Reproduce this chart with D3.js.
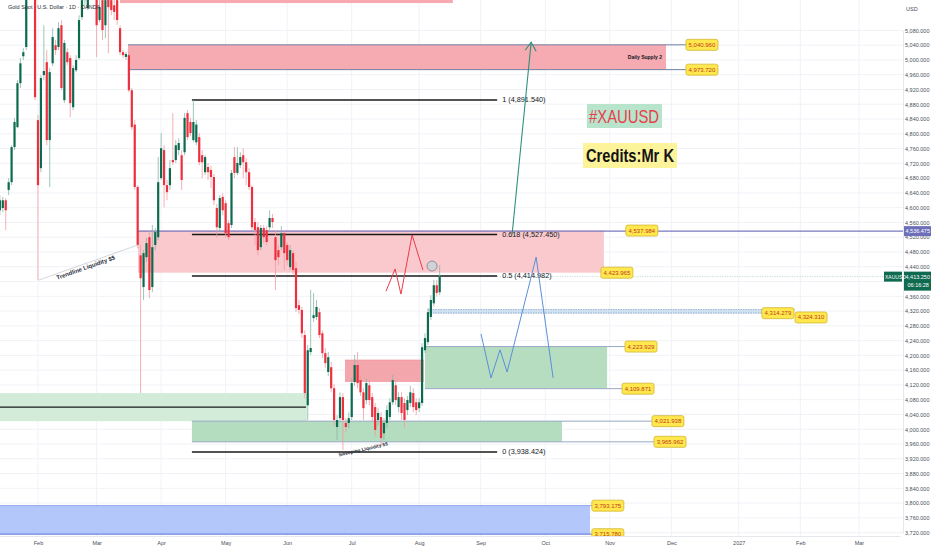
<!DOCTYPE html>
<html>
<head>
<meta charset="utf-8">
<script src="https://cdn.jsdelivr.net/npm/d3@7"></script>
<style>
  body { margin: 0; background: #fff; }
  text { font-family: "Liberation Sans", Arial, sans-serif; }
</style>
</head>
<body>
<div id="chart-area"></div>
<script>
/*
*    XAUUSD daily - Mr K levels
*/

// DATA
// =====

var firstBarDate = new Date(2026, 0, 14);
var lastPrice = 4413.25;
var markedPrice = 4536.475;

// daily candles [open, high, low, close]
var ohlc = [
    [4593, 4634, 4580, 4620], [4599, 4629, 4588, 4620], [4620, 4626, 4539, 4593], [4648, 4680, 4634, 4669],
    [4669, 4769, 4661, 4764], [4764, 4843, 4756, 4832], [4818, 4945, 4815, 4937], [4937, 5005, 4924, 4991],
    [5010, 5032, 5000, 5021], [5035, 5203, 5027, 5176], [5176, 5270, 5162, 5243], [5243, 5284, 5176, 5189],
    [5189, 5216, 4891, 4899], [4837, 4851, 4404, 4661], [4707, 4959, 4696, 4951], [4959, 5094, 4945, 4970],
    [4994, 5027, 4769, 4783], [4783, 4978, 4656, 4967], [4991, 5086, 4983, 5062], [5040, 5054, 5013, 5027],
    [5035, 5102, 5027, 5086], [5094, 5108, 4918, 4924], [4891, 5054, 4883, 5046], [5021, 5032, 4986, 4994],
    [5005, 5013, 4845, 4883], [4872, 4986, 4864, 4978], [4972, 5013, 4967, 5000], [5005, 5121, 5000, 5108],
    [5116, 5189, 5108, 5162], [5162, 5243, 5148, 5216], [5140, 5216, 5135, 5189], [5189, 5230, 5162, 5176],
    [5176, 5230, 5170, 5203], [5176, 5203, 5008, 5094], [5108, 5162, 5102, 5143], [5162, 5189, 5054, 5081],
    [5094, 5189, 5059, 5162], [5176, 5203, 5018, 5143], [5162, 5184, 5121, 5135], [5148, 5170, 5108, 5130],
    [5162, 5176, 5094, 5108], [5086, 5094, 5013, 5021], [5021, 5027, 5005, 5013], [5008, 5021, 5000, 5016],
    [5013, 5021, 4913, 4918], [4918, 4924, 4810, 4818], [4825, 4837, 4648, 4656], [4656, 4661, 4490, 4499],
    [4471, 4499, 4098, 4409], [4385, 4485, 4350, 4477], [4466, 4518, 4453, 4504], [4520, 4539, 4355, 4377],
    [4385, 4553, 4371, 4493], [4499, 4545, 4485, 4534], [4520, 4737, 4512, 4669], [4680, 4802, 4675, 4761],
    [4756, 4769, 4601, 4661], [4661, 4675, 4620, 4642], [4661, 4729, 4648, 4707], [4729, 4856, 4715, 4723],
    [4729, 4783, 4721, 4769], [4756, 4788, 4742, 4775], [4742, 4756, 4648, 4675], [4750, 4856, 4742, 4843],
    [4856, 4864, 4783, 4791], [4832, 4843, 4794, 4802], [4783, 4891.54, 4777, 4832], [4777, 4837, 4769, 4825],
    [4791, 4802, 4715, 4723], [4742, 4756, 4680, 4723], [4696, 4742, 4688, 4737], [4710, 4721, 4675, 4696],
    [4702, 4713, 4653, 4683], [4683, 4691, 4607, 4620], [4599, 4610, 4518, 4547], [4545, 4634, 4534, 4626],
    [4629, 4639, 4580, 4593], [4612, 4620, 4518, 4531], [4558, 4566, 4512, 4520], [4553, 4702, 4545, 4694],
    [4737, 4764, 4680, 4694], [4694, 4764, 4688, 4721], [4715, 4750, 4707, 4737], [4742, 4761, 4680, 4723],
    [4723, 4734, 4661, 4696], [4696, 4707, 4648, 4656], [4656, 4661, 4539, 4547], [4561, 4572, 4499, 4539],
    [4547, 4561, 4471, 4485], [4493, 4553, 4485, 4545], [4545, 4553, 4504, 4520], [4539, 4550, 4499, 4507],
    [4547, 4593, 4534, 4572], [4572, 4583, 4545, 4561], [4520, 4539, 4377, 4458], [4485, 4499, 4444, 4466],
    [4493, 4550, 4485, 4531], [4531, 4539, 4431, 4477], [4499, 4507, 4444, 4458], [4439, 4499, 4431, 4485],
    [4477, 4485, 4417, 4431], [4436, 4453, 4317, 4328], [4336, 4350, 4312, 4323], [4323, 4331, 4247, 4260],
    [4255, 4268, 4084, 4098], [4065, 4228, 4025, 4214], [4209, 4377, 4201, 4220], [4301, 4369, 4290, 4309],
    [4304, 4350, 4296, 4331], [4317, 4328, 4247, 4255], [4260, 4268, 4193, 4206], [4206, 4220, 4166, 4179],
    [4155, 4209, 4144, 4195], [4168, 4182, 4100, 4111], [4111, 4122, 4011, 4025], [4006, 4038, 3971, 4025],
    [4030, 4100, 4019, 4087], [4087, 4098, 3944, 4025], [4017, 4030, 3992, 4006], [4017, 4046, 4003, 4030],
    [4033, 4138, 4025, 4125], [4128, 4201, 4117, 4174], [4174, 4209, 4111, 4125], [4133, 4144, 4090, 4100],
    [4100, 4111, 4025, 4057], [4079, 4138, 4068, 4125], [4119, 4133, 4065, 4079], [4087, 4098, 4019, 4033],
    [4060, 4071, 3981, 3998], [4025, 4057, 4011, 4044], [4033, 4046, 3954, 3976], [3989, 4030, 3971, 4017],
    [4017, 4065, 4003, 4052], [4033, 4084, 4025, 4073], [4073, 4147, 4065, 4133], [4119, 4133, 4065, 4079],
    [4060, 4100, 4046, 4087], [4087, 4100, 4025, 4044], [4071, 4084, 4003, 4025], [4052, 4090, 4038, 4079],
    [4071, 4117, 4060, 4100], [4098, 4111, 4046, 4060], [4073, 4084, 4038, 4052], [4057, 4084, 4046, 4073],
    [4071, 4233, 4063, 4222], [4214, 4260, 4206, 4247], [4236, 4328, 4228, 4317], [4304, 4363, 4296, 4350],
    [4341, 4404, 4333, 4390], [4390, 4404, 4360, 4369], [4371, 4444, 4363, 4413.25]
];

// zones: [from bar, to bar, top price, bottom price]
var topSupply = [43, 156.5, 5230, 5154];
var dailySupply = [45.7, 229.2, 5040.960, 4973.720];
var supplyZone = [49.1, 208, 4537.984, 4423.965];
var thinZone = [148, 261.9, 4324.310, 4314.279];
var demandZone = [147, 209.1, 4223.929, 4109.871];
var smallSupply = [119.7, 146.6, 4187.5, 4128];
var leftDemand = [-5, 106.7, 4098, 4021.938];
var lowDemand = [67.5, 193.7, 4021.938, 3965.962];
var blueZone = [-5, 203.3, 3793.175, 3715.780];

// price tags: [bar, price]
var priceTags = [
    [236, 5040.960], [236, 4973.720], [215.5, 4537.984], [207, 4423.965],
    [261.9, 4314.279], [273.2, 4324.310], [215.2, 4223.929], [214.2, 4109.871],
    [224.4, 4021.938], [225.1, 3965.962], [203.9, 3793.175], [203.9, 3715.780]
];

// fib retracement
var fibLevels = [1, 0.618, 0.5, 0];
var fibPrices = [4891.540, 4527.450, 4414.982, 3938.424];
var fibBars = [67.5, 171.6];
var leftLevel = [-5, 106.4, 4060];

// drawn paths [bar, price]
var arrowPath = [[176.7, 4527.45], [183.2, 5048]];
var redPath = [[133.7, 4374], [136.8, 4434], [138.8, 4366], [142.6, 4526], [146.3, 4431]];
var bluePath = [[166.1, 4258], [169.5, 4139], [172.6, 4215], [175, 4155], [184.9, 4466], [190.7, 4139]];
var trendline = [[15.3, 4404], [49.1, 4499]];
var circlePoint = [149.4, 4442];

// 4,400 sits under the live price tag, so it is not labelled
var priceTicks = d3.range(3720, 5081, 40).filter(d => d !== 4400);


// CANVAS
// =======

var W = 932, H = 550, plotW = 903, plotH = 536;

var svg = d3.select('#chart-area')
    .append('svg')
        .attr('width', W)
        .attr('height', H);

svg.append('defs').append('clipPath')
    .attr('id', 'plot-clip')
    .append('rect')
        .attr('width', plotW)
        .attr('height', plotH);

// trading days (weekdays) for the bar axis
var bars = [];
var day = new Date(2026, 0, 12);
while (day < new Date(2027, 3, 1)) {
    if (day.getDay() % 6 !== 0) bars.push(new Date(day));
    day.setDate(day.getDate() + 1);
}
var firstBar = bars.findIndex(d => d.getTime() === firstBarDate.getTime());

var monthTicks = [];
bars.forEach((d, i) => {
    if (i > 0 && d.getMonth() !== bars[i - 1].getMonth()) monthTicks.push(i);
});

var x = d3.scaleLinear().domain([0, 309]).range([-6, 900]);
var y = d3.scaleLinear().domain([3720, 5080]).range([532.65, 30.4]);


// GRID
// =====

var grid = svg.append('g').attr('class', 'grid');
grid.selectAll('line.h')
    .data(d3.range(3720, 5081, 40))
    .enter().append('line')
        .attr('x1', 0).attr('x2', plotW)
        .attr('y1', d => y(d)).attr('y2', d => y(d))
        .attr('stroke', '#f0f2f7');
grid.selectAll('line.v')
    .data(monthTicks)
    .enter().append('line')
        .attr('x1', d => x(d)).attr('x2', d => x(d))
        .attr('y1', 0).attr('y2', plotH)
        .attr('stroke', '#f0f2f7');

var g = svg.append('g').attr('clip-path', 'url(#plot-clip)');


// ZONES
// ======

function zone(z, fill) {
    return g.append('rect')
        .attr('x', x(z[0]))
        .attr('y', y(z[2]))
        .attr('width', x(z[1]) - x(z[0]))
        .attr('height', y(z[3]) - y(z[2]))
        .attr('fill', fill);
}

function hline(b0, b1, price, color, w, dash) {
    return g.append('line')
        .attr('x1', x(b0)).attr('x2', x(b1))
        .attr('y1', y(price)).attr('y2', y(price))
        .attr('stroke', color)
        .attr('stroke-width', w || 1)
        .attr('stroke-dasharray', dash || null);
}

zone(topSupply, '#f7a9b0');
zone(dailySupply, '#f6aab1');
zone(supplyZone, '#f9c9cd');
zone(leftDemand, '#d3ecda');
zone(lowDemand, '#b4dcbe');
zone(demandZone, '#b7ddc1');
zone(smallSupply, '#f4a6ad');
zone(blueZone, '#b3c7fb');

// zone edges running out to their tags
hline(dailySupply[0], 236, dailySupply[2], '#6f7fa3');
hline(dailySupply[0], 236, dailySupply[3], '#6f7fa3');
hline(supplyZone[1], 207, supplyZone[3], '#9aa6c0');
hline(demandZone[0], 215.2, demandZone[2], '#98a8c4');
hline(demandZone[0], 214.2, demandZone[3], '#98a8c4');
hline(lowDemand[0], 224.4, lowDemand[2], '#98a8c4');
hline(lowDemand[0], 225.1, lowDemand[3], '#98a8c4');
hline(blueZone[0], 203.9, blueZone[2], '#8fa6e8');
hline(blueZone[0], 203.9, blueZone[3], '#6e86df', 1.3);
hline(smallSupply[0], smallSupply[1], smallSupply[2], '#f08e97', 0.6);

// thin hatched zone
zone(thinZone, '#cfe0f0');
hline(thinZone[0], thinZone[1], thinZone[2], '#9cb8d8', 1.2, '1.5,1');
hline(thinZone[0], thinZone[1], thinZone[3], '#9cb8d8', 1.2, '1.5,1');
hline(thinZone[1], 273.2, thinZone[2], '#9cb8d8', 0.8);

// marked horizontal + last price line
hline(supplyZone[0], 312, markedPrice, '#7877c0', 1.1);
hline(ohlc.length + firstBar - 1, 312, lastPrice, '#a8cabc', 0.8, '1,1.5');


// FIB
// ====

fibPrices.forEach(p => hline(fibBars[0], fibBars[1], p, '#1a1a1a', 1.4));
hline(leftLevel[0], leftLevel[1], leftLevel[2], '#1a1a1a', 1.4);

g.selectAll('text.fib')
    .data(fibLevels)
    .enter().append('text')
        .attr('x', x(fibBars[1]) + 5)
        .attr('y', (d, i) => y(fibPrices[i]) + 2.5)
        .attr('font-size', '7.3px')
        .attr('fill', '#131722')
        .text((d, i) => d + ' (' + d3.format(',.3f')(fibPrices[i]) + ')');


// CANDLES
// ========

var candles = g.selectAll('g.candle')
    .data(ohlc)
    .enter().append('g');

candles.append('line')
    .attr('x1', (d, i) => x(firstBar + i))
    .attr('x2', (d, i) => x(firstBar + i))
    .attr('y1', d => y(d[1]))
    .attr('y2', d => y(d[2]))
    .attr('stroke', d => d[3] >= d[0] ? '#86b8a8' : '#f39aa2')
    .attr('stroke-width', 0.8);

candles.append('rect')
    .attr('x', (d, i) => x(firstBar + i) - 1.1)
    .attr('width', 2.2)
    .attr('y', d => y(Math.max(d[0], d[3])))
    .attr('height', d => Math.max(1, Math.abs(y(d[0]) - y(d[3]))))
    .attr('fill', d => d[3] >= d[0] ? '#0c6b4f' : '#ee2f3e');


// DRAWINGS
// =========

var line = d3.line().x(d => x(d[0])).y(d => y(d[1]));

g.append('path')
    .attr('d', line(trendline))
    .attr('fill', 'none')
    .attr('stroke', '#c8ccd6')
    .attr('stroke-width', 0.8);

var tl0 = [x(trendline[0][0]), y(trendline[0][1])],
    tl1 = [x(trendline[1][0]), y(trendline[1][1])],
    tlAngle = Math.atan2(tl1[1] - tl0[1], tl1[0] - tl0[0]) * 180 / Math.PI;
g.append('text')
    .attr('transform', 'translate(' + ((tl0[0] + tl1[0]) / 2 - 2) + ',' + ((tl0[1] + tl1[1]) / 2 + 7) + ') rotate(' + tlAngle + ')')
    .attr('text-anchor', 'middle')
    .attr('font-size', '6px')
    .attr('font-weight', 'bold')
    .attr('fill', '#2a2e39')
    .text('Trendline Liquidity $$');

g.append('text')
    .attr('transform', 'translate(' + x(126) + ',' + (y(3944) + 1) + ') rotate(-13)')
    .attr('text-anchor', 'middle')
    .attr('font-size', '4.8px')
    .attr('font-weight', 'bold')
    .attr('fill', '#2a2e39')
    .text('Sweeping Liquidity $$');

g.append('path')
    .attr('d', line(redPath))
    .attr('fill', 'none')
    .attr('stroke', '#ec3b45')
    .attr('stroke-width', 1);

g.append('path')
    .attr('d', line(bluePath))
    .attr('fill', 'none')
    .attr('stroke', '#5a8fd8')
    .attr('stroke-width', 1);

g.append('path')
    .attr('d', line(arrowPath))
    .attr('fill', 'none')
    .attr('stroke', '#2f8f7c')
    .attr('stroke-width', 1.1);

var tip = [x(arrowPath[1][0]), y(arrowPath[1][1])];
g.append('path')
    .attr('d', 'M' + (tip[0] - 6) + ',' + (tip[1] + 8) + 'L' + tip[0] + ',' + tip[1] + 'L' + (tip[0] + 5) + ',' + (tip[1] + 9))
    .attr('fill', 'none')
    .attr('stroke', '#2f8f7c')
    .attr('stroke-width', 1.1);

g.append('circle')
    .attr('cx', x(circlePoint[0]))
    .attr('cy', y(circlePoint[1]))
    .attr('r', 5)
    .attr('fill', '#cfd2d6')
    .attr('stroke', '#7d8087')
    .attr('stroke-width', 0.8);

g.append('text')
    .attr('x', x(dailySupply[1]) - 4)
    .attr('y', (y(dailySupply[2]) + y(dailySupply[3])) / 2 + 2)
    .attr('text-anchor', 'end')
    .attr('font-size', '5px')
    .attr('font-weight', 'bold')
    .attr('fill', '#131722')
    .text('Daily Supply 2');

// yellow price tags
var tags = g.selectAll('g.tag')
    .data(priceTags)
    .enter().append('g')
        .attr('transform', d => 'translate(' + x(d[0]) + ',' + (y(d[1]) + (d[1] === 4324.310 ? 8 : 0)) + ')');

tags.append('rect')
    .attr('x', 0).attr('y', -5.5)
    .attr('width', 32).attr('height', 11)
    .attr('rx', 2)
    .attr('fill', '#ffe84d')
    .attr('stroke', '#d2b631')
    .attr('stroke-width', 0.8);

tags.append('text')
    .attr('x', 16).attr('y', 2)
    .attr('text-anchor', 'middle')
    .attr('font-size', '6px')
    .attr('fill', '#c2381d')
    .text(d => d3.format(',.3f')(d[1]));


// NOTES
// ======

svg.append('rect')
    .attr('x', 587).attr('y', 104)
    .attr('width', 75).attr('height', 24)
    .attr('fill', '#b8e4cb');
svg.append('text')
    .attr('x', 589).attr('y', 123)
    .attr('font-family', 'Open Sans, sans-serif')
    .attr('font-size', '19px')
    .attr('textLength', 70)
    .attr('lengthAdjust', 'spacingAndGlyphs')
    .attr('fill', '#e6404b')
    .text('#XAUUSD');

svg.append('rect')
    .attr('x', 583).attr('y', 143)
    .attr('width', 94).attr('height', 25)
    .attr('fill', '#fdf39a');
svg.append('text')
    .attr('x', 586).attr('y', 162)
    .attr('font-family', 'Open Sans, sans-serif')
    .attr('font-size', '18px')
    .attr('font-weight', 'bold')
    .attr('textLength', 88)
    .attr('lengthAdjust', 'spacingAndGlyphs')
    .attr('fill', '#141414')
    .text('Credits:Mr K');

svg.append('text')
    .attr('x', 8).attr('y', 9)
    .attr('font-size', '5.5px')
    .attr('fill', '#2a2e39')
    .text('Gold Spot · U.S. Dollar · 1D · OANDA');


// AXES
// =====

svg.append('rect')
    .attr('x', plotW).attr('y', 0)
    .attr('width', W - plotW).attr('height', H)
    .attr('fill', '#fff');
svg.append('rect')
    .attr('x', 0).attr('y', plotH)
    .attr('width', W).attr('height', H - plotH)
    .attr('fill', '#fff');

var yAxisCall = d3.axisRight(y)
    .tickValues(priceTicks)
    .tickSize(0)
    .tickPadding(2)
    .tickFormat(d3.format(',.3f'));
var yAxis = svg.append('g')
    .attr('class', 'y axis')
    .attr('transform', 'translate(' + plotW + ',0)')
    .call(yAxisCall);
yAxis.select('.domain').attr('stroke', '#e6e8ee');
yAxis.selectAll('text')
    .attr('font-size', '5.5px')
    .attr('fill', '#4a4e59');

var xAxisCall = d3.axisBottom(x)
    .tickValues(monthTicks)
    .tickSize(0)
    .tickPadding(5)
    .tickFormat(i => bars[i].getMonth() === 0 ? bars[i].getFullYear() : d3.timeFormat('%b')(bars[i]));
var xAxis = svg.append('g')
    .attr('class', 'x axis')
    .attr('transform', 'translate(0,' + plotH + ')')
    .call(xAxisCall);
xAxis.select('.domain').attr('stroke', '#e6e8ee');
xAxis.selectAll('text')
    .attr('font-size', '5.5px')
    .attr('fill', '#4a4e59');

svg.append('text')
    .attr('x', 906).attr('y', 11)
    .attr('font-size', '5.5px')
    .attr('fill', '#4a4e59')
    .text('USD');

// axis price tags
svg.append('rect')
    .attr('x', plotW + 1).attr('y', y(markedPrice) - 5)
    .attr('width', 27).attr('height', 10)
    .attr('fill', '#6d6fb8');
svg.append('text')
    .attr('x', plotW + 2.5).attr('y', y(markedPrice) + 2)
    .attr('font-size', '5.5px')
    .attr('fill', '#fff')
    .text(d3.format(',.3f')(markedPrice));

svg.append('rect')
    .attr('x', plotW + 1).attr('y', y(lastPrice) - 5)
    .attr('width', 27).attr('height', 19)
    .attr('fill', '#0f6b4f');
svg.append('text')
    .attr('x', plotW + 2.5).attr('y', y(lastPrice) + 2)
    .attr('font-size', '5.5px')
    .attr('fill', '#fff')
    .text(d3.format(',.3f')(lastPrice));
svg.append('text')
    .attr('x', plotW + 4.5).attr('y', y(lastPrice) + 10.5)
    .attr('font-size', '5.5px')
    .attr('fill', '#fff')
    .text('06:16:28');

svg.append('rect')
    .attr('x', 884).attr('y', y(lastPrice) - 5)
    .attr('width', 18).attr('height', 10)
    .attr('fill', '#0f6b4f');
svg.append('text')
    .attr('x', 885).attr('y', y(lastPrice) + 2)
    .attr('font-size', '5px')
    .attr('fill', '#fff')
    .text('XAUUSD');
</script>
</body>
</html>
